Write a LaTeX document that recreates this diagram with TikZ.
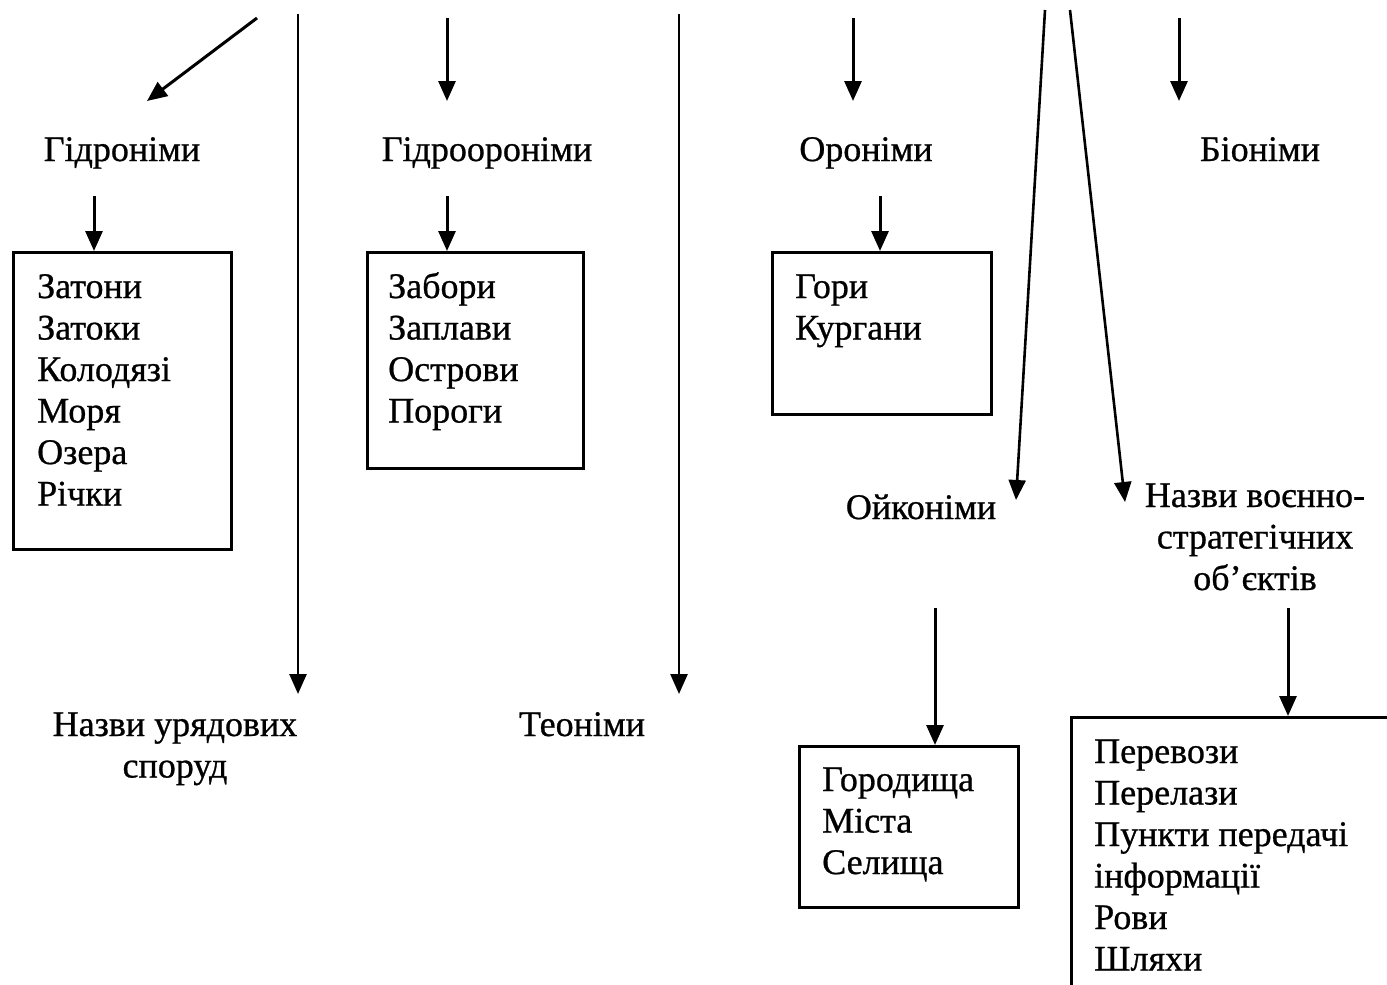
\documentclass[tikz,border=0pt]{standalone}
\usepackage{fontspec}
\setmainfont[FakeBold=0.7]{Liberation Serif}
\usetikzlibrary{arrows.meta}
\tikzset{
  arr/.style={line width=3pt,-{Triangle[length=20pt,width=17pt]}},
  longarr/.style={line width=2.6pt,-{Triangle[length=20pt,width=17pt]}},
  boxnode/.style={draw,line width=3.4pt,anchor=north west,inner sep=0pt},
  lbl/.style={inner sep=0pt,font=\fontsize{36}{41.5}\selectfont},
  lst/.style={inner sep=0pt,align=left,anchor=base west,font=\fontsize{36}{41.5}\selectfont},
}
\begin{document}
\begin{tikzpicture}[x=1pt,y=-1pt]
\useasboundingbox (0,0) rectangle (1387,985);
\clip (0,0) rectangle (1387,985);
\fill[white] (0,0) rectangle (1387,985);

% top labels
\node[lbl,anchor=base] (hydro) at (122,161) {Гідроніми};
\node[lbl,anchor=base] (hydrooro) at (487,161) {Гідроороніми};
\node[lbl,anchor=base] (oro) at (866,161) {Ороніми};
\node[lbl,anchor=base] (bio) at (1260,161) {Біоніми};

% top arrows
\coordinate (s1) at (257,18); \coordinate (e1) at (147,101);
\coordinate (s2) at (447,18); \coordinate (e2) at (447,101);
\coordinate (s3) at (853,18); \coordinate (e3) at (853,101);
\coordinate (s4) at (1179,18); \coordinate (e4) at (1179,101);
\draw[arr] (s1) -- (e1);
\draw[arr] (s2) -- (e2);
\draw[arr] (s3) -- (e3);
\draw[arr] (s4) -- (e4);

% long lines
\coordinate (l1s) at (298,14); \coordinate (l1e) at (298,694);
\coordinate (l2s) at (679,14); \coordinate (l2e) at (679,694);
\draw[longarr] (l1s) -- (l1e);
\draw[longarr] (l2s) -- (l2e);

\coordinate (d1s) at (1045,10); \coordinate (d1e) at (1016,500);
\coordinate (d2s) at (1070,10); \coordinate (d2e) at (1125,502);
\draw[longarr] (d1s) -- (d1e);
\draw[longarr] (d2s) -- (d2e);

% boxes
\node[boxnode,minimum width=218pt,minimum height=297pt] (b1) at (12,251) {};
\node[boxnode,minimum width=216pt,minimum height=216pt] (b2) at (366,251) {};
\node[boxnode,minimum width=219pt,minimum height=162pt] (b3) at (771,251) {};
\node[boxnode,minimum width=219pt,minimum height=161pt] (b4) at (798,745) {};
\node[boxnode,minimum width=400pt,minimum height=320pt] (b5) at (1070,716) {};

\node[lst] (t1) at (37,505.5) {Затони\\Затоки\\Колодязі\\Моря\\Озера\\Річки};
\node[lst] (t2) at (388,422.5) {Забори\\Заплави\\Острови\\Пороги};
\node[lst] (t3) at (795,339.5) {Гори\\Кургани};
\node[lst] (t4) at (822,874) {Городища\\Міста\\Селища};
\node[lst] (t5) at (1094,970.5) {Перевози\\Перелази\\Пункти передачі\\інформації\\Рови\\Шляхи};

% arrows into boxes
\coordinate (a1) at (94,196);
\coordinate (a2) at (447,196);
\coordinate (a3) at (880,196);
\coordinate (a4) at (935,608);
\coordinate (a5) at (1288,608);
\draw[arr] (a1) -- (a1 |- b1.north);
\draw[arr] (a2) -- (a2 |- b2.north);
\draw[arr] (a3) -- (a3 |- b3.north);
\draw[arr] (a4) -- (a4 |- b4.north);
\draw[arr] (a5) -- (a5 |- b5.north);

% lower labels
\node[lbl,anchor=base] (oiko) at (921,519) {Ойконіми};
\node[lbl,anchor=base,align=center] (mil) at (1255,590) {Назви воєнно-\\стратегічних\\об’єктів};
\node[lbl,anchor=base,align=center] (gov) at (175,777.5) {Назви урядових\\споруд};
\node[lbl,anchor=base] (theo) at (582,736) {Теоніми};
\end{tikzpicture}
\end{document}
